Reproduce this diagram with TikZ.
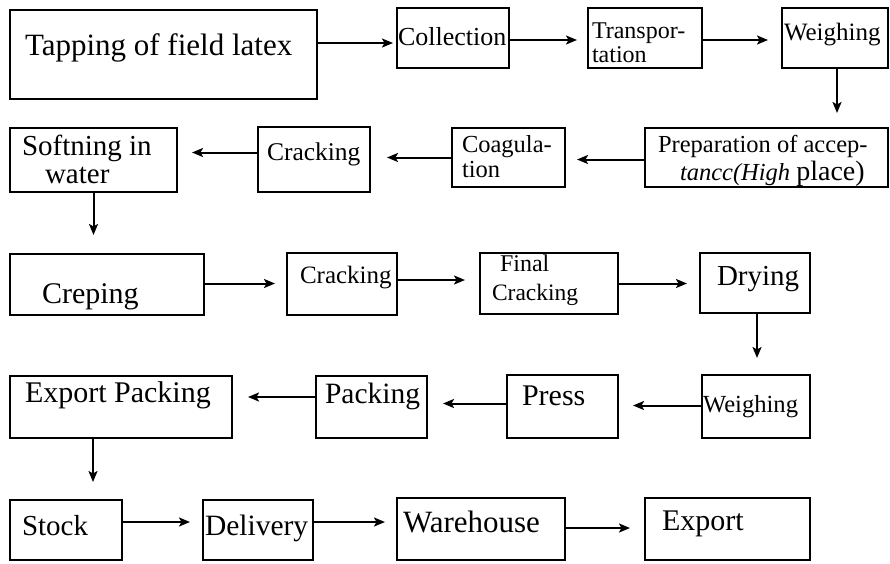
\documentclass[tikz,border=0pt]{standalone}
\usepackage{fontspec}
\setmainfont{Liberation Serif}
\usetikzlibrary{arrows.meta}
\newcommand\txtsize[1]{\fontsize{#1}{#1}\selectfont}
\begin{document}
\begin{tikzpicture}[x=1pt,y=-1pt,
  box/.style={draw, line width=2pt, anchor=north west, inner sep=0pt, outer sep=0pt},
  lbl/.style={anchor=base west, inner sep=0pt, outer sep=0pt},
  arr/.style={line width=2pt, -{Stealth[length=11pt,width=9pt,inset=2.5pt]}},
]
\useasboundingbox (0,0) rectangle (890,563);

% ---- row 1 ----
\node[box, minimum width=307pt, minimum height=89pt] (tap)    at (10,10)  {};
\node[box, minimum width=112pt, minimum height=60pt] (coll)   at (397,8)  {};
\node[box, minimum width=114pt, minimum height=60pt] (trans)  at (588,8)  {};
\node[box, minimum width=106pt, minimum height=60pt] (weigh1) at (782,8)  {};
\node[lbl, font=\txtsize{31}] (t-tap)    at (25,55)  {Tapping of field latex};
\node[lbl, font=\txtsize{26}] (t-coll)   at (398,45) {Collection};
\node[lbl, font=\txtsize{24}] (t-trans1) at (592,38) {Transpor-};
\node[lbl, font=\txtsize{24}] (t-trans2) at (592,62) {tation};
\node[lbl, font=\txtsize{25}] (t-weigh1) at (784,40) {Weighing};

% ---- row 2 ----
\node[box, minimum width=243pt, minimum height=59pt] (prep)   at (645,128) {};
\node[box, minimum width=113pt, minimum height=59pt] (coag)   at (452,128) {};
\node[box, minimum width=112pt, minimum height=65pt] (crack1) at (258,127) {};
\node[box, minimum width=167pt, minimum height=64pt] (soft)   at (10,128)  {};
\node[lbl, font=\txtsize{24.5}] (t-prep1) at (658,152) {Preparation of accep-};
\node[lbl, font=\txtsize{24.5}] (t-prep2) at (680,180) {\itshape tancc(High \upshape\txtsize{28}place)};
\node[lbl, font=\txtsize{24.5}] (t-coag1) at (462,152) {Coagula-};
\node[lbl, font=\txtsize{24.5}] (t-coag2) at (462,177) {tion};
\node[lbl, font=\txtsize{25.5}] (t-crack1) at (267,160) {Cracking};
\node[lbl, font=\txtsize{29}] (t-soft1) at (22,155) {Softning in};
\node[lbl, font=\txtsize{29}] (t-soft2) at (45,183) {water};

% ---- row 3 ----
\node[box, minimum width=194pt, minimum height=61pt] (crep)   at (10,254)  {};
\node[box, minimum width=110pt, minimum height=62pt] (crack2) at (287,253) {};
\node[box, minimum width=138pt, minimum height=61pt] (fcrack) at (480,253) {};
\node[box, minimum width=110pt, minimum height=60pt] (dry)    at (700,253) {};
\node[lbl, font=\txtsize{30}] (t-crep)    at (42,303)  {Creping};
\node[lbl, font=\txtsize{25}] (t-crack2)  at (300,283) {Cracking};
\node[lbl, font=\txtsize{24}] (t-fcrack1) at (500,271) {Final};
\node[lbl, font=\txtsize{23.5}] (t-fcrack2) at (492,300) {Cracking};
\node[lbl, font=\txtsize{29}] (t-dry)     at (717,285) {Drying};

% ---- row 4 ----
\node[box, minimum width=222pt, minimum height=62pt] (expk)   at (10,376)  {};
\node[box, minimum width=111pt, minimum height=62pt] (pack)   at (316,376) {};
\node[box, minimum width=111pt, minimum height=63pt] (press)  at (507,375) {};
\node[box, minimum width=108pt, minimum height=63pt] (weigh2) at (702,375) {};
\node[lbl, font=\txtsize{30}] (t-expk)   at (25,402)  {Export Packing};
\node[lbl, font=\txtsize{29.5}] (t-pack) at (325,403) {Packing};
\node[lbl, font=\txtsize{30}] (t-press)  at (522,405) {Press};
\node[lbl, font=\txtsize{24.6}] (t-weigh2) at (703,412) {Weighing};

% ---- row 5 ----
\node[box, minimum width=112pt, minimum height=60pt] (stock)  at (10,500)  {};
\node[box, minimum width=110pt, minimum height=60pt] (deliv)  at (203,500) {};
\node[box, minimum width=168pt, minimum height=62pt] (ware)   at (397,498) {};
\node[box, minimum width=165pt, minimum height=62pt] (export) at (645,498) {};
\node[lbl, font=\txtsize{29}] (t-stock)  at (22,535)  {Stock};
\node[lbl, font=\txtsize{29.5}] (t-deliv) at (205,535) {Delivery};
\node[lbl, font=\txtsize{31}] (t-ware)   at (403,532) {Warehouse};
\node[lbl, font=\txtsize{30}] (t-export) at (662,530) {Export};

% ---- connectors ----
\draw[arr, shorten >=4pt]  ([yshift=-5pt]coll.west -| tap.east) -- ([yshift=-5pt]coll.west);
\draw[arr, shorten >=11pt] ([yshift=-2pt]coll.east) -- ([yshift=-2pt]coll.east -| trans.west);
\draw[arr, shorten >=14pt] ([yshift=-2pt]trans.east) -- ([yshift=-2pt]trans.east -| weigh1.west);
\draw[arr, shorten >=15pt] ([xshift=2pt]weigh1.south) -- ([xshift=2pt]weigh1.south |- prep.north);
\draw[arr, shorten >=12pt] ([yshift=-2pt]prep.west) -- ([yshift=-2pt]prep.west -| coag.east);
\draw[arr, shorten >=17pt] (coag.west) -- (coag.west -| crack1.east);
\draw[arr, shorten >=15pt] ([yshift=7pt]crack1.west) -- ([yshift=7pt]crack1.west -| soft.east);
\draw[arr, shorten >=19pt] (soft.south) -- (soft.south |- crep.north);
\draw[arr, shorten >=12pt] ([yshift=1pt]crep.east) -- ([yshift=1pt]crep.east -| crack2.west);
\draw[arr, shorten >=15pt] ([yshift=4pt]crack2.east) -- ([yshift=4pt]crack2.east -| fcrack.west);
\draw[arr, shorten >=13pt] (fcrack.east) -- (fcrack.east -| dry.west);
\draw[arr, shorten >=17pt] ([xshift=2pt]dry.south) -- ([xshift=2pt]dry.south |- weigh2.north);
\draw[arr, shorten >=15pt] ([yshift=1pt]weigh2.west) -- ([yshift=1pt]weigh2.west -| press.east);
\draw[arr, shorten >=16pt] ([yshift=3pt]press.west) -- ([yshift=3pt]press.west -| pack.east);
\draw[arr, shorten >=16pt] ([yshift=10pt]pack.west) -- ([yshift=10pt]pack.west -| expk.east);
\draw[arr, shorten >=18pt] ([xshift=83pt]expk.south west) -- ([xshift=83pt]expk.south west |- stock.north);
\draw[arr, shorten >=13pt] ([yshift=8pt]stock.east) -- ([yshift=8pt]stock.east -| deliv.west);
\draw[arr, shorten >=12pt] ([yshift=8pt]deliv.east) -- ([yshift=8pt]deliv.east -| ware.west);
\draw[arr, shorten >=15pt] ([yshift=1pt]ware.east) -- ([yshift=1pt]ware.east -| export.west);
\end{tikzpicture}
\end{document}
